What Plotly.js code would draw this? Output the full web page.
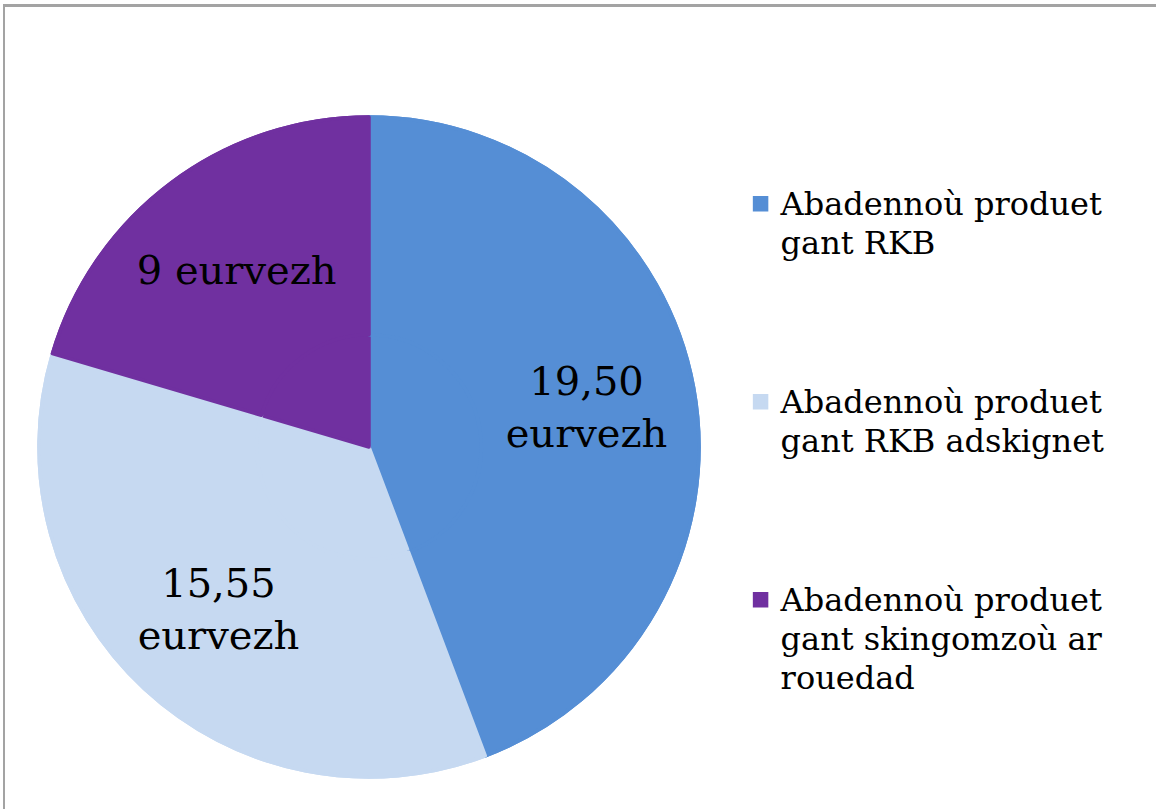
<!DOCTYPE html>
<html>
<head>
<meta charset="utf-8">
<script src="https://cdn.plot.ly/plotly-3.0.1.min.js"></script>
<style>
  html, body { margin: 0; padding: 0; background: #ffffff; }
  #wrap { position: relative; width: 1156px; height: 809px; overflow: hidden; }
  #chart { width: 1156px; height: 809px; }
  #frame { position: absolute; left: 3px; top: 4px; width: 1200px; height: 900px;
           border-left: 2px solid #a3a3a3; border-top: 3px solid #a3a3a3; pointer-events: none; }
</style>
</head>
<body>
<div id="wrap">
  <div id="chart"></div>
  <div id="frame"></div>
</div>
<script>
// Data
const categories = [
  "Abadennoù produet<br>gant RKB",
  "Abadennoù produet<br>gant RKB adskignet",
  "Abadennoù produet<br>gant skingomzoù ar<br>rouedad"
];
const values = [19.50, 15.55, 9];
const valueLabels = ["19,50<br>eurvezh", "15,55<br>eurvezh", "9 eurvezh"];
const colors = ["#558ed5", "#c6d9f1", "#7030a0"];

// legend labels: larger glyphs in a span, blank lines to spread the items apart
const legendLabels = categories.map((c, i) => {
  const lines = c.split("<br>").length;
  const pad = i < categories.length - 1 ? 5 - lines : 0;
  const styled = c.split("<br>").map(s => '<span style="font-size:32px">' + s + '</span>').join("<br>");
  return styled + "<br> ".repeat(pad);
});

const common = {
  type: "pie",
  labels: legendLabels,
  values: values,
  sort: false,
  direction: "clockwise",
  rotation: 0,
  marker: { colors: colors, line: { width: 3.5, color: colors } },
  hoverinfo: "label+value"
};

// full pie underneath (no text), ring on top carries the value labels further out
const basePie = Object.assign({}, common, { textinfo: "none", showlegend: false });
const labelPie = Object.assign({}, common, {
  hole: 0.34,
  text: valueLabels,
  textinfo: "text",
  textposition: "inside",
  insidetextorientation: "horizontal",
  insidetextfont: { family: "DejaVu Serif", size: 40, color: "#000000" },
  showlegend: true
});

const layout = {
  width: 1156,
  height: 809,
  margin: { l: 39, r: 457, t: 117, b: 32 },
  paper_bgcolor: "#ffffff",
  showlegend: true,
  legend: {
    x: 1.063, xanchor: "left",
    y: 0.908, yanchor: "top",
    valign: "top",
    font: { family: "DejaVu Serif", size: 30, color: "#000000" },
    bgcolor: "rgba(0,0,0,0)"
  },
  font: { family: "DejaVu Serif" }
};

Plotly.newPlot("chart", [basePie, labelPie], layout, { displayModeBar: false, staticPlot: true });
</script>
</body>
</html>
